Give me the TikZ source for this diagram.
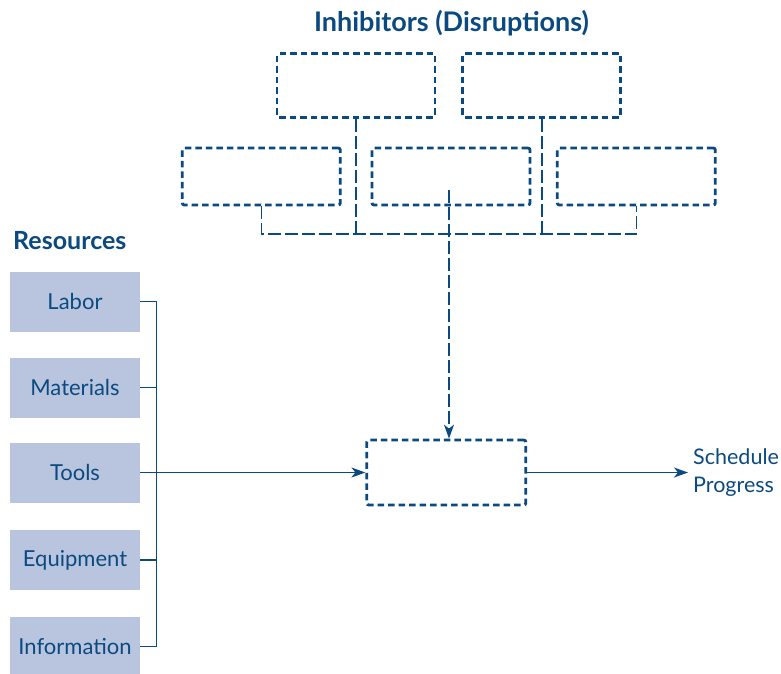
\documentclass[tikz,border=0pt]{standalone}
\usepackage{fontspec}
\setmainfont{Lato}
\usetikzlibrary{arrows.meta}
\definecolor{inkblue}{HTML}{0B4A80}
\definecolor{resfill}{HTML}{B9C5DE}

\begin{document}
\begin{tikzpicture}[x=1pt,y=-1pt,
  inhib/.style={draw=inkblue, line width=2.8pt, dash pattern=on 6.5pt off 4pt,
    rounded corners=2pt, minimum width=158pt, inner sep=0pt},
  resbox/.style={fill=resfill, minimum width=130pt, minimum height=60pt,
    inner sep=0pt, text=inkblue, font=\fontsize{22}{26}\selectfont},
  link/.style={draw=inkblue, line width=1.4pt},
  dlink/.style={link, dash pattern=on 13pt off 4pt},
  tip/.style={-{Stealth[length=14pt,width=10pt,inset=4pt]}},
  heading/.style={text=inkblue, font=\bfseries, inner sep=0pt}
]
\useasboundingbox (0,0) rectangle (781,673);

% heading over the disruption boxes
\node[heading, font=\bfseries\fontsize{27}{30}\selectfont] (title) at (451.5,23) {Inhibitors (Disruptions)};

% disruption boxes (left blank)
\node[inhib, minimum height=64pt] (A) at (356,85.5) {};
\node[inhib, minimum height=64pt] (B) at (541.8,85.5) {};
\node[inhib, minimum height=57pt] (C) at (261.3,176.5) {};
\node[inhib, minimum height=57pt] (D) at (451,176.5) {};
\node[inhib, minimum height=57pt] (E) at (636.3,176.5) {};

% activity box
\node[inhib, minimum width=159pt, minimum height=65pt] (F) at (446.3,472.5) {};

% dashed collector bus
\coordinate (bus) at (0,234);
\coordinate (dstart) at (449,190);
\draw[dlink] (C.south) -- (C.south |- bus) -- (E.south |- bus) -- (E.south);
\draw[dlink] (A.south) -- (A.south |- bus);
\draw[dlink] (B.south) -- (B.south |- bus);
\draw[dlink, tip] (dstart) -- (dstart |- F.north);

% resources column
\node[heading, font=\bfseries\fontsize{25}{28}\selectfont, anchor=base west] (reshead) at (13,249) {Resources};
\node[resbox] (labor) at (75,301.7) {Labor};
\node[resbox] (materials) at (75,387.7) {Materials};
\node[resbox] (tools) at (75,472.5) {Tools};
\node[resbox] (equipment) at (75,560) {Equipment};
\node[resbox] (information) at (75,646.7) {Information};

% bracket joining the resources
\coordinate (spine) at (156.5,0);
\draw[link] (labor.east) -- (labor.east -| spine) -- (information.east -| spine) -- (information.east);
\draw[link] (materials.east) -- (materials.east -| spine);
\draw[link] (equipment.east) -- (equipment.east -| spine);
\draw[link, tip] (tools.east) -- (F.west);

% output
\node[anchor=west, align=left, text=inkblue, inner sep=5pt,
  font=\fontsize{21.5}{27.5}\selectfont] (out) at (688,472.5) {Schedule\\Progress};
\draw[link, tip] (F.east) -- (out.west |- F.east);
\end{tikzpicture}
\end{document}
